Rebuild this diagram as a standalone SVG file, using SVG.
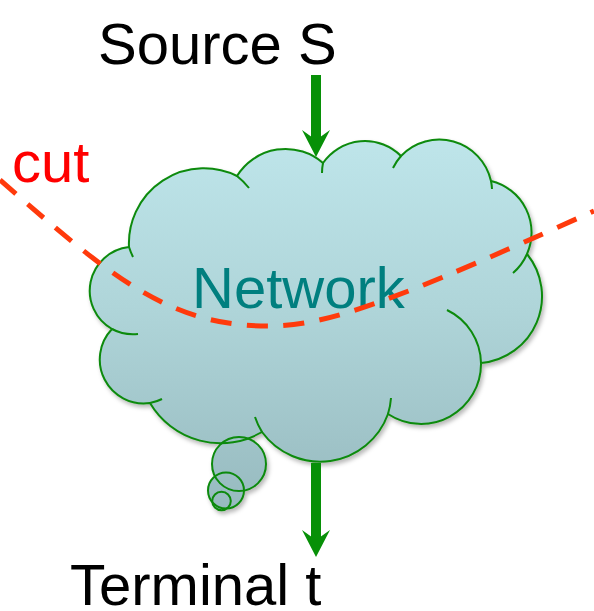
<svg xmlns="http://www.w3.org/2000/svg" width="594" height="611" viewBox="0 0 594 611">
  <style>
    .label { font-family: "Liberation Sans", Arial, sans-serif; font-size: 58px; }
    .cloud-line { fill: none; stroke: #0B8A0B; stroke-width: 2; }
    .flow { fill: none; stroke: #079007; stroke-width: 10; marker-end: url(#head); }
    .cut-line { fill: none; stroke: #FF3A0C; stroke-width: 5; stroke-dasharray: 21 15.5; }
  </style>
  <defs>
    <linearGradient id="cloudFill" gradientUnits="userSpaceOnUse" x1="0" y1="140" x2="0" y2="511">
      <stop offset="0" stop-color="#BEE5EA"/>
      <stop offset="0.45" stop-color="#AFD5D9"/>
      <stop offset="1" stop-color="#97BABF"/>
    </linearGradient>
    <filter id="shadow" x="-10%" y="-10%" width="125%" height="125%">
      <feDropShadow dx="2" dy="3" stdDeviation="2.2" flood-color="#000" flood-opacity="0.28"/>
    </filter>
    <marker id="head" viewBox="0 0 27 28" refX="10" refY="14" markerWidth="27" markerHeight="28" markerUnits="userSpaceOnUse" orient="auto">
      <path d="M0,0 L27,14 L0,28 L10,14 Z" fill="#079007"/>
    </marker>
    <path id="cloudOutline" d="M112,329 A44,44 0 0 1 129,247 A75,75 0 0 1 237,176 A57,57 0 0 1 323,163 A51,51 0 0 1 401,156 A53,53 0 0 1 491,181 A53,53 0 0 1 527,254 A67,67 0 0 1 481,363 A60,60 0 0 1 388,414 A72,72 0 0 1 262,432 A82,82 0 0 1 150,403 A44,44 0 0 1 112,329 Z"/>
  </defs>

  <!-- cloud-shaped network with its thought bubbles -->
  <g id="network" filter="url(#shadow)">
    <g fill="url(#cloudFill)">
      <use href="#cloudOutline"/>
      <circle cx="239" cy="464" r="27"/>
      <circle cx="226" cy="490.5" r="18"/>
      <circle cx="221.5" cy="501" r="9.3"/>
    </g>
    <g class="cloud-line">
      <use href="#cloudOutline"/>
      <path d="M112,329 A44,44 0 0 0 138,334 M129,247 A75,75 0 0 0 133,257 M237,176 A75,75 0 0 1 249,188 M323,163 A51,51 0 0 0 322,173 M401,156 A53,53 0 0 0 393,168 M491,181 A53,53 0 0 1 492,189 M527,254 A53,53 0 0 1 513,273 M481,363 A60,60 0 0 0 447,310 M388,414 A72,72 0 0 0 391,398 M262,432 A72,72 0 0 1 255,417 M150,403 A44,44 0 0 0 162,399"/>
      <circle cx="239" cy="464" r="27"/>
      <circle cx="226" cy="490.5" r="18"/>
      <circle cx="221.5" cy="501" r="9.3"/>
    </g>
  </g>
  <g id="network-label">
    <text class="label" x="192" y="308" fill="#007F7F">Network</text>
  </g>

  <g id="source">
    <text class="label" x="98" y="64" fill="#000">Source S</text>
  </g>
  <g id="terminal">
    <text class="label" x="70" y="605" fill="#000">Terminal t</text>
  </g>
  <g id="cut">
    <text class="label" x="12" y="181.5" fill="#FF0000">cut</text>
    <path class="cut-line" d="M0,180 C110,276 168,326 268,326 C328,326 394,301 594,211"/>
  </g>

  <g id="connectors">
    <path class="flow" d="M316,75 L316,140"/>
    <path class="flow" d="M316,463 L316,540"/>
  </g>
</svg>
